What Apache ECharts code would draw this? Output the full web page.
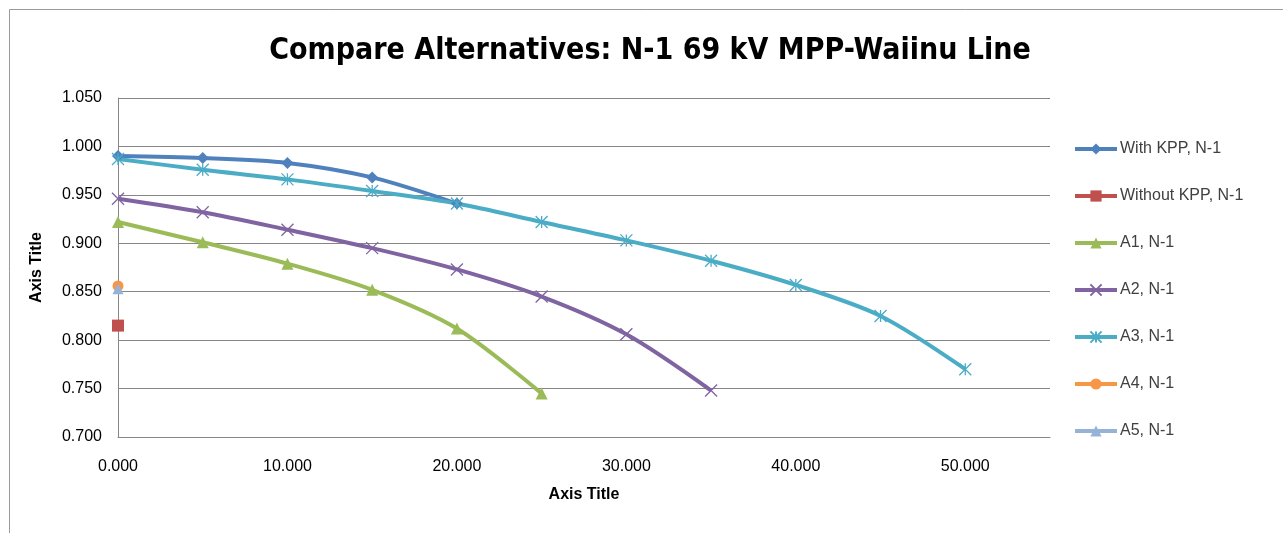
<!DOCTYPE html>
<html><head><meta charset="utf-8">
<script src="https://cdn.jsdelivr.net/npm/echarts@6/dist/echarts.min.js"></script>
<style>html,body{margin:0;padding:0;background:#fff}#c{width:1283px;height:533px}</style>
</head><body><div id="c"></div>
<script>
const seriesNames = ['With KPP, N-1','Without KPP, N-1','A1, N-1','A2, N-1','A3, N-1','A4, N-1','A5, N-1'];
const xWithKPP = [0,5,10,15,20];
const yWithKPP = [0.990,0.988,0.983,0.968,0.941];
const xWithoutKPP = [0];
const yWithoutKPP = [0.815];
const xA1 = [0,5,10,15,20,25];
const yA1 = [0.922,0.901,0.879,0.852,0.812,0.745];
const xA2 = [0,5,10,15,20,25,30,35];
const yA2 = [0.946,0.932,0.914,0.895,0.873,0.845,0.806,0.748];
const xA3 = [0,5,10,15,20,25,30,35,40,45,50];
const yA3 = [0.987,0.976,0.966,0.954,0.941,0.922,0.903,0.882,0.857,0.825,0.770];
const xA4 = [0];
const yA4 = [0.856];
const xA5 = [0];
const yA5 = [0.853];
const xTickLabels = ['0.000','10.000','20.000','30.000','40.000','50.000'];

const pair = (xs, ys) => xs.map((x,i)=>[x, ys[i]]);
const colors = ['#4F81BD','#C0504D','#9BBB59','#8064A2','#4BACC6','#F79646','#95B3D7'];
const xPath = 'path://M0,0L10,10M10,0L0,10';
const starPath = 'path://M0,0L10,10M10,0L0,10M5,0L5,10';
const defs = [
  {x:xWithKPP,y:yWithKPP,sym:'diamond',size:12},
  {x:xWithoutKPP,y:yWithoutKPP,sym:'rect',size:12},
  {x:xA1,y:yA1,sym:'triangle',size:12},
  {x:xA2,y:yA2,sym:xPath,size:12,stroke:true},
  {x:xA3,y:yA3,sym:starPath,size:12,stroke:true},
  {x:xA4,y:yA4,sym:'circle',size:11},
  {x:xA5,y:yA5,sym:'triangle',size:11}
];
const series = defs.map((d,i)=>({
  name: seriesNames[i],
  type:'line',
  smooth:0.3,
  data: pair(d.x,d.y),
  symbol:d.sym,
  symbolSize:d.size,
  showAllSymbol:true,
  lineStyle:{width:4,color:colors[i]},
  itemStyle: d.stroke ? {color:'rgba(0,0,0,0)',borderColor:colors[i],borderWidth:1.3,opacity:1} : {color:colors[i]},
  emphasis:{disabled:true}
}));
const chart = echarts.init(document.getElementById('c'),null,{renderer:'canvas'});
chart.setOption({
  animation:false,
  backgroundColor:'#fff',
  color:colors,
  graphic:[{type:'rect',left:7,top:7,shape:{width:1300,height:600},style:{fill:'none',stroke:'#9a9a9a',lineWidth:1},silent:true}],
  title:{text:'Compare Alternatives: N-1 69 kV MPP-Waiinu Line',left:645,textAlign:'center',top:31,
    textStyle:{fontFamily:'"Liberation Sans Narrow","DejaVu Sans Condensed","Liberation Sans",sans-serif',fontSize:30,fontWeight:'bold',color:'#000'}},
  grid:{left:118,right:233,top:98,bottom:96},
  legend:{orient:'vertical',left:1068,top:136,itemGap:31,itemWidth:42,itemHeight:14,
    lineStyle:{width:4},
    textStyle:{fontFamily:'"Liberation Sans",sans-serif',fontSize:16,color:'#404040',padding:[0,0,0,-2]},
    data:seriesNames},
  xAxis:{type:'value',min:0,max:55,interval:10,
    name:'Axis Title',nameLocation:'middle',nameGap:50,
    nameTextStyle:{fontFamily:'"Liberation Sans",sans-serif',fontWeight:'bold',fontSize:16,color:'#000'},
    axisLine:{show:true,lineStyle:{color:'#868686'}},axisTick:{show:false},
    splitLine:{show:false},
    axisLabel:{fontFamily:'"Liberation Sans",sans-serif',fontSize:16,color:'#000',margin:22,
      formatter:(v)=>{const i=Math.round(v/10);return xTickLabels[i]!==undefined && v%10===0?xTickLabels[i]:'';}}},
  yAxis:{type:'value',min:0.7,max:1.05,interval:0.05,
    name:'Axis Title',nameLocation:'middle',nameGap:73,nameRotate:90,
    nameTextStyle:{fontFamily:'"Liberation Sans",sans-serif',fontWeight:'bold',fontSize:16,color:'#000'},
    axisLine:{show:true,lineStyle:{color:'#868686'}},axisTick:{show:false},
    splitLine:{show:true,lineStyle:{color:'#868686',width:1}},
    axisLabel:{fontFamily:'"Liberation Sans",sans-serif',fontSize:16,color:'#000',margin:16,
      formatter:(v)=>v.toFixed(3)}},
  series:series
});
</script></body></html>
